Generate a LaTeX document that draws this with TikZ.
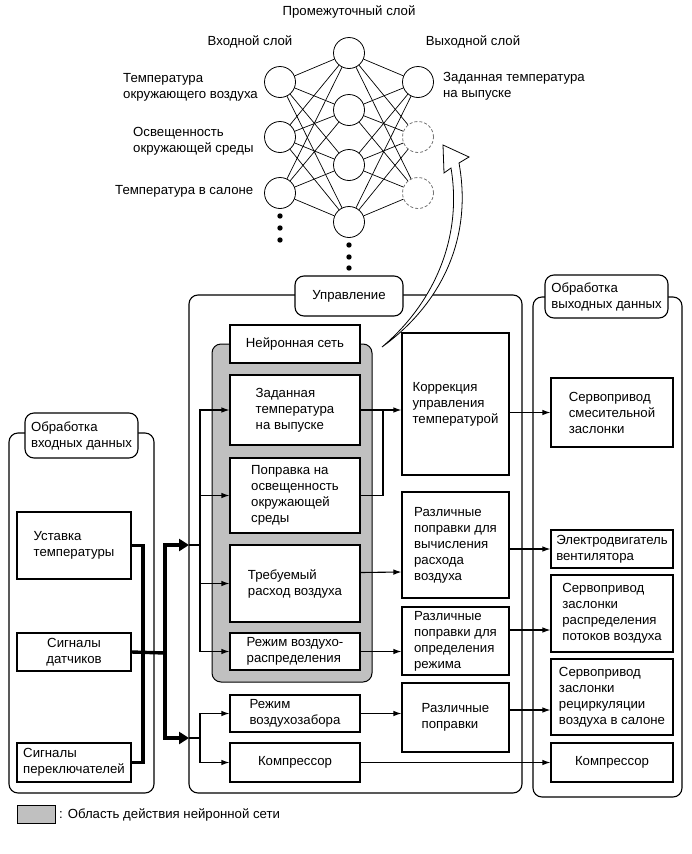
\documentclass[tikz,border=0pt]{standalone}
\usepackage{fontspec}
\setmainfont{Liberation Sans}
\usetikzlibrary{arrows.meta}
\definecolor{nngrey}{RGB}{192,192,192}
\begin{document}
\begin{tikzpicture}[x=1pt,y=-1pt,
  font=\fontsize{13.2}{16}\selectfont,
  box/.style={draw, line width=1.1pt, align=left, inner sep=1pt, fill=white},
  neuron/.style={draw, circle, minimum size=31pt, inner sep=0pt, line width=0.8pt, fill=white},
  dneuron/.style={neuron, draw=black!55, dash pattern=on 3pt off 2pt},
  cont/.style={draw, line width=1.1pt, rounded corners=9pt},
  lbl/.style={draw, line width=1.1pt, rounded corners=9pt, fill=white, align=left, inner sep=0pt},
  txt/.style={align=left, inner sep=0pt},
  arr/.style={-{Latex[length=8pt,width=5.5pt]}, line width=1.1pt},
  thn/.style={line width=1.1pt},
  thk/.style={line width=3.4pt},
  tarr/.style={thk, -{Triangle[length=10pt,width=12pt]}},
  link/.style={line width=0.7pt},
]
\useasboundingbox (0,0) rectangle (691,854);

% ---------------- neural network ----------------
\node[neuron] (i1) at (280,82) {};
\node[neuron] (i2) at (280,137) {};
\node[neuron] (i3) at (280,193) {};
\node[neuron] (h1) at (349,53) {};
\node[neuron] (h2) at (349,110) {};
\node[neuron] (h3) at (349,165) {};
\node[neuron] (h4) at (349,222) {};
\node[neuron] (o1) at (418,82) {};
\node[dneuron] (o2) at (418,137) {};
\node[dneuron] (o3) at (418,193) {};
\foreach \a in {1,2,3}{\foreach \b in {1,2,3,4}{\draw[link] (i\a) -- (h\b);}}
\foreach \b in {1,2,3,4}{\foreach \c in {1,2,3}{\draw[link] (h\b) -- (o\c);}}
\foreach \yy in {216,228,240}{\fill (280,\yy) circle (2.7);}
\foreach \yy in {245,257,268}{\fill (349,\yy) circle (2.7);}

\node[txt] (tmid) at (349,12) {Промежуточный слой};
\node[txt] (tin) at (250,42) {Входной слой};
\node[txt] (tout) at (473,42) {Выходной слой};
\node[txt, anchor=west] (l1) at (123,87) {Температура\\окружающего воздуха};
\node[txt, anchor=west] (l2) at (133,141) {Освещенность\\окружающей среды};
\node[txt, anchor=west] (l3) at (115,191) {Температура в салоне};
\node[txt, anchor=west] (l4) at (443,86) {Заданная температура\\на выпуске};

% ---------------- containers ----------------
\draw[cont] (9,433) rectangle (154,793);
\draw[cont] (189,295) rectangle (522,793);
\draw[cont] (533,297) rectangle (682,797);
\draw[fill=nngrey, line width=1pt, rounded corners=9pt] (212,344) rectangle (372,682);

\node[lbl, minimum width=108, minimum height=40] (upr) at (349,296) {Управление};
\node[lbl, minimum width=123, minimum height=43] (outlbl) at (606.5,296.5) {Обработка\\выходных данных};
\node[lbl, minimum width=113, minimum height=45] (inlbl) at (81.5,435.5) {Обработка\\входных данных};

% ---------------- left column ----------------
\node[box, minimum width=114, minimum height=67] (ust) at (74,545.5) {Уставка\\температуры};
\node[box, align=center, minimum width=114, minimum height=38] (dat) at (74,652) {Сигналы\\датчиков};
\node[box, minimum width=114, minimum height=39] (per) at (74,762.5) {Сигналы\\переключателей};

% ---------------- control column ----------------
\node[box, minimum width=130, minimum height=38] (nnl) at (295,344) {Нейронная сеть};
\node[box, minimum width=130, minimum height=70] (zad) at (295,410) {Заданная\\температура\\на выпуске};
\node[box, minimum width=130, minimum height=75] (popr) at (295,495.5) {Поправка на\\освещенность\\окружающей\\среды};
\node[box, minimum width=130, minimum height=77] (treb) at (295,583.5) {Требуемый\\расход воздуха};
\node[box, minimum width=130, minimum height=37] (rezh) at (295,651.5) {Режим воздухо-\\распределения};
\node[box, minimum width=130, minimum height=37] (zab) at (295,713.5) {Режим\\воздухозабора};
\node[box, align=center, minimum width=130, minimum height=39] (komp1) at (295,762.5) {Компрессор};

\node[box, minimum width=107, minimum height=142] (korr) at (455.5,404) {Коррекция\\управления\\температурой};
\node[box, minimum width=107, minimum height=106] (raz1) at (455.5,545) {Различные\\поправки для\\вычисления\\расхода\\воздуха};
\node[box, minimum width=107, minimum height=68] (raz2) at (455.5,641) {Различные\\поправки для\\определения\\режима};
\node[box, minimum width=107, minimum height=69] (raz3) at (455.5,717.5) {Различные\\поправки};

% ---------------- output column ----------------
\node[box, minimum width=122, minimum height=69] (serv1) at (612,412.5) {Сервопривод\\смесительной\\заслонки};
\node[box, minimum width=122, minimum height=38] (el) at (612,549) {Электродвигатель\\вентилятора};
\node[box, minimum width=122, minimum height=77] (serv2) at (612,613.5) {Сервопривод\\заслонки\\распределения\\потоков воздуха};
\node[box, minimum width=122, minimum height=76] (serv3) at (612,697) {Сервопривод\\заслонки\\рециркуляции\\воздуха в салоне};
\node[box, align=center, minimum width=122, minimum height=39] (komp2) at (612,762.5) {Компрессор};

% ---------------- thick input bus ----------------
\coordinate (j) at (143,653);
\coordinate (k) at (165,653);
\coordinate (ta) at (189,545);
\coordinate (tb) at (189,738);
\coordinate (ba) at (200,545);
\coordinate (bb) at (200,738);
\draw[thk] (ust.east) -| (j);
\draw[thk] (per.east) -| (j);
\draw[thk] (dat.east) -- (k);
\draw[tarr] (k) |- (ta);
\draw[tarr] (k) |- (tb);

% ---------------- thin distribution ----------------
\draw[thn] (ta) -- (ba);
\draw[thn] (tb) -- (bb);
\draw[arr] (ba) |- (zad.west);
\draw[arr] (ba) |- (popr.west);
\draw[arr] (ba) |- (treb.west);
\draw[arr] (ba) |- (rezh.west);
\draw[arr] (bb) |- (zab.west);
\draw[arr] (bb) |- (komp1.west);

\draw[arr] (zad.east) -- (zad.east -| korr.west);
\draw[thn] (popr.east) -| (383,410);
\draw[arr] ([yshift=11pt]treb.east) -- ([yshift=-27pt]raz1.west);
\draw[arr] (rezh.east) -- (rezh.east -| raz2.west);
\draw[arr] (zab.east) -- (zab.east -| raz3.west);
\draw[arr] (komp1.east) -- (komp2.west);

\draw[arr] (korr.east |- serv1.west) -- (serv1.west);
\draw[arr] (raz1.east |- el.west) -- (el.west);
\draw[arr] ([yshift=11pt]raz2.east) -- ([yshift=-16.5pt]serv2.west);
\draw[arr] ([yshift=7.5pt]raz3.east) -- ([yshift=-13pt]serv3.west);

% ---------------- hollow curved arrow ----------------
\draw[line width=0.8pt, fill=white, line join=miter]
  (382,347) .. controls (432,305) and (463,240) .. (451,168)
  -- (444,173) -- (443,145) -- (469,157) -- (459,163)
  .. controls (473,240) and (440,305) .. (382,347) -- cycle;

% ---------------- legend ----------------
\node[draw, fill=nngrey, line width=1pt, minimum width=38, minimum height=18, inner sep=0pt] (leg) at (36,814) {};
\node[txt, anchor=west] (legt) at (59,815) {: Область действия нейронной сети};
\end{tikzpicture}
\end{document}
